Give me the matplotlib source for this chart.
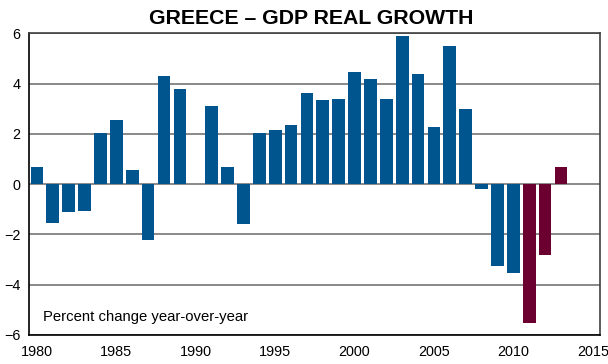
import matplotlib
matplotlib.use('Agg')
import matplotlib.pyplot as plt
import numpy as np

plt.rcParams['font.family'] = ['Liberation Sans', 'DejaVu Sans']

years = list(range(1980, 2014))
growth = [0.7, -1.55, -1.1, -1.07, 2.05, 2.53, 0.55, -2.24, 4.28, 3.8,
          0.0, 3.12, 0.7, -1.6, 2.03, 2.14, 2.37, 3.64, 3.36, 3.4,
          4.47, 4.19, 3.4, 5.89, 4.39, 2.29, 5.5, 3.0, -0.2, -3.27,
          -3.53, -5.51, -2.8, 0.7]
forecast_from = 2011

blue = '#00558f'
maroon = '#6b0030'
colors = [maroon if y >= forecast_from else blue for y in years]

fig = plt.figure(figsize=(6.08, 3.64), dpi=100)
ax = fig.add_axes([0.0477, 0.0797, 0.939, 0.829])

ax.bar(years, growth, width=0.8, color=colors, zorder=3)

ax.set_xlim(1979.5, 2015.45)
ax.set_ylim(-6, 6)
ax.set_yticks([-6, -4, -2, 0, 2, 4, 6])
ax.set_xticks(range(1980, 2016, 5))
ax.tick_params(length=0, labelsize=10.4, pad=7)
ax.tick_params(axis='y', pad=6)
ax.yaxis.grid(True, color='#808080', linewidth=1.3, zorder=0)
ax.set_axisbelow(True)

for side in ['left', 'bottom']:
    ax.spines[side].set_color('black')
    ax.spines[side].set_linewidth(1.2)
for side in ['top', 'right']:
    ax.spines[side].set_color('#404040')
    ax.spines[side].set_linewidth(1.2)

ax.text(0.025, 0.035, 'Percent change year-over-year', transform=ax.transAxes,
        fontsize=10.7, va='bottom', ha='left')

fig.text(0.512, 0.948, 'GREECE \u2013 GDP REAL GROWTH', ha='center', va='center',
         fontsize=15.3, fontweight='bold')

fig.savefig('out.png', dpi=100)
